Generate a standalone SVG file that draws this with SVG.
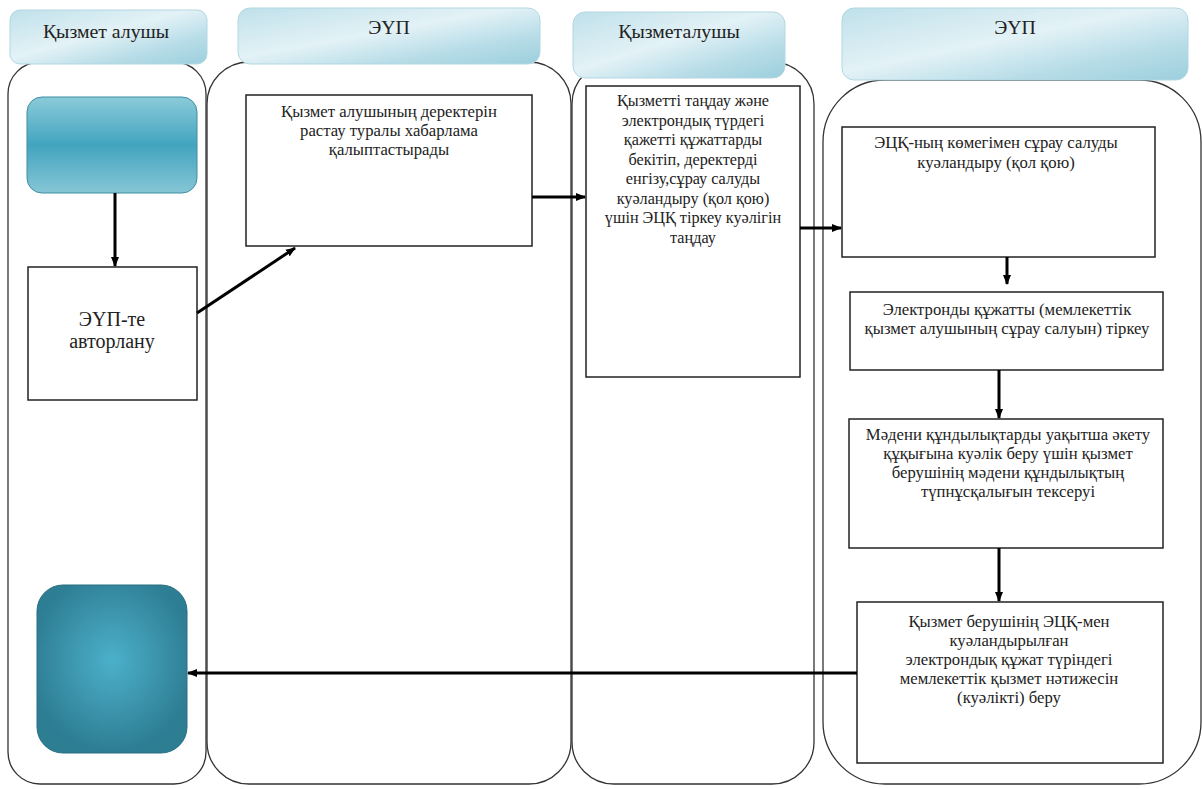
<svg xmlns="http://www.w3.org/2000/svg" width="1202" height="789" viewBox="0 0 1202 789" font-family="Liberation Serif, Times New Roman, DejaVu Serif, serif">
<style>
.lane{fill:#fff;stroke:#333;stroke-width:1.3}
.hdr{stroke:#b3d7e2;stroke-width:1}
.box{fill:#fff;stroke:#222;stroke-width:1.5}
.t{font-size:16.7px;fill:#222;text-anchor:middle}
.t3{font-size:16.2px;fill:#222;text-anchor:middle}
.h{font-size:19.8px;fill:#222;text-anchor:middle}
.c{stroke:#000;stroke-width:3;fill:none;marker-end:url(#ah)}
</style>
<defs>
<marker id="ah" markerWidth="10" markerHeight="8" refX="9" refY="4" orient="auto" markerUnits="userSpaceOnUse"><path d="M0,0 L10,4 L0,8 Z" fill="#000"/></marker>
<linearGradient id="hg" x1="0" y1="0" x2="1" y2="1">
<stop offset="0" stop-color="#bfe0ea"/>
<stop offset="0.45" stop-color="#e3f2f6"/>
<stop offset="0.75" stop-color="#b6dce7"/>
<stop offset="1" stop-color="#9ccfdd"/>
</linearGradient>
<linearGradient id="sg" x1="0" y1="0" x2="0" y2="1">
<stop offset="0" stop-color="#8bcbda"/>
<stop offset="0.5" stop-color="#42a4bf"/>
<stop offset="1" stop-color="#86c6d5"/>
</linearGradient>
<radialGradient id="eg" cx="0.5" cy="0.45" r="0.55">
<stop offset="0" stop-color="#4cb0ca"/>
<stop offset="1" stop-color="#2d7d93"/>
</radialGradient>
</defs>
<g id="lanes">
<rect class="lane" x="8" y="62" width="198" height="722" rx="32"/>
<rect class="lane" x="207" y="62" width="364" height="722" rx="42"/>
<rect class="lane" x="572" y="62" width="242" height="722" rx="42"/>
<rect class="lane" x="823" y="80" width="378" height="704" rx="62"/>
</g>
<g id="headers">
<g id="h1"><rect class="hdr" x="10" y="10" width="197" height="54" rx="10" fill="url(#hg)"/><text class="h" x="106" y="38">Қызмет алушы</text></g>
<g id="h2"><rect class="hdr" x="238" y="8" width="302" height="56" rx="12" fill="url(#hg)"/><text class="h" x="389" y="34">ЭҮП</text></g>
<g id="h3"><rect class="hdr" x="573" y="12" width="212" height="66" rx="12" fill="url(#hg)"/><text class="h" x="679" y="38">Қызметалушы</text></g>
<g id="h4"><rect class="hdr" x="842" y="8" width="346" height="72" rx="12" fill="url(#hg)"/><text class="h" x="1015" y="34">ЭҮП</text></g>
</g>
<g id="start"><rect x="27" y="97" width="170" height="96" rx="15" fill="url(#sg)" stroke="#3c8ea4" stroke-width="1"/></g>
<g id="n1"><rect class="box" x="28" y="267" width="169" height="133"/><text class="t" x="112" y="326" style="font-size:20px">ЭҮП-те</text><text class="t" x="112" y="348" style="font-size:20px">авторлану</text></g>
<g id="n2"><rect class="box" x="246" y="95" width="286" height="151"/>
<text class="t" x="389" y="117">Қызмет алушының деректерін</text>
<text class="t" x="389" y="136">растау туралы хабарлама</text>
<text class="t" x="389" y="155">қалыптастырады</text></g>
<g id="n3"><rect class="box" x="586" y="86" width="214" height="291"/>
<text class="t3" x="693" y="106">Қызметті таңдау және</text>
<text class="t3" x="693" y="125.5">электрондық түрдегі</text>
<text class="t3" x="693" y="145">қажетті құжаттарды</text>
<text class="t3" x="693" y="164.5">бекітіп, деректерді</text>
<text class="t3" x="693" y="184">енгізу,сұрау салуды</text>
<text class="t3" x="693" y="203.5">куәландыру (қол қою)</text>
<text class="t3" x="693" y="223">үшін ЭЦҚ тіркеу куәлігін</text>
<text class="t3" x="693" y="242.5">таңдау</text></g>
<g id="n4"><rect class="box" x="842" y="127" width="313" height="130"/>
<text class="t" x="996" y="148">ЭЦҚ-ның көмегімен сұрау салуды</text>
<text class="t" x="996" y="168">куәландыру (қол қою)</text></g>
<g id="n5"><rect class="box" x="850" y="292" width="313" height="78"/>
<text class="t" x="1007" y="315">Электронды құжатты (мемлекеттік</text>
<text class="t" x="1007" y="334">қызмет алушының сұрау салуын) тіркеу</text></g>
<g id="n6"><rect class="box" x="849" y="419" width="314" height="129"/>
<text class="t" x="1008" y="440">Мәдени құндылықтарды уақытша әкету</text>
<text class="t" x="1008" y="459">құқығына куәлік беру үшін қызмет</text>
<text class="t" x="1008" y="478">берушінің мәдени құндылықтың</text>
<text class="t" x="1008" y="497">түпнұсқалығын тексеруі</text></g>
<g id="n7"><rect class="box" x="857" y="602" width="306" height="161"/>
<text class="t" x="1009" y="627">Қызмет берушінің ЭЦҚ-мен</text>
<text class="t" x="1009" y="646">куәландырылған</text>
<text class="t" x="1009" y="665">электрондық құжат түріндегі</text>
<text class="t" x="1009" y="684">мемлекеттік қызмет нәтижесін</text>
<text class="t" x="1009" y="703">(куәлікті) беру</text></g>
<g id="end"><rect x="37" y="585" width="150" height="168" rx="26" fill="url(#eg)" stroke="#2a6f83" stroke-width="1"/></g>
<g id="connectors">
<line class="c" x1="115" y1="193" x2="115" y2="266"/>
<line class="c" x1="197" y1="313" x2="295" y2="248"/>
<line class="c" x1="532" y1="197" x2="585" y2="197"/>
<line class="c" x1="800" y1="228" x2="841" y2="228"/>
<line class="c" x1="1007" y1="257" x2="1007" y2="284"/>
<line class="c" x1="999" y1="370" x2="999" y2="418"/>
<line class="c" x1="999" y1="548" x2="999" y2="601"/>
<line class="c" x1="857" y1="673" x2="188" y2="673"/>
</g>
</svg>
